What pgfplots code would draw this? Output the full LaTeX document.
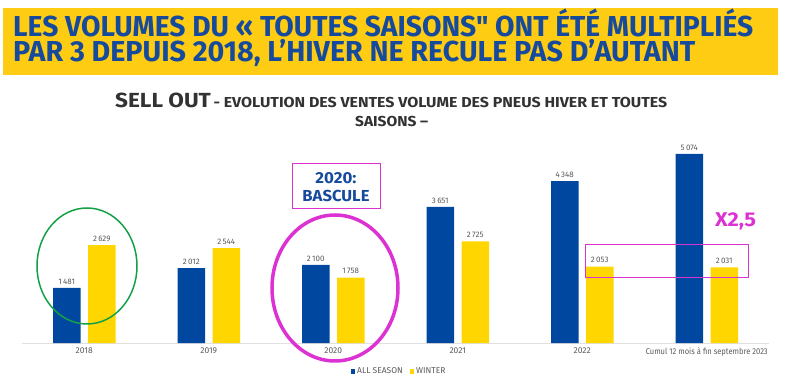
\documentclass[border=0pt]{standalone}
\usepackage{pgfplots}
\pgfplotsset{compat=1.18}
\usepackage{fontspec}
\setmainfont{Fira Sans}
\newfontfamily\titlefont{Fira Sans}
\usepackage{graphicx}
\definecolor{barblue}{RGB}{0,71,160}
\definecolor{baryellow}{RGB}{255,214,0}
\definecolor{banner}{RGB}{255,204,20}
\definecolor{titleblue}{RGB}{22,74,156}
\definecolor{mag}{RGB}{220,50,210}
\definecolor{grn}{RGB}{20,160,70}
\definecolor{lblgray}{RGB}{90,90,90}
\definecolor{subgray}{RGB}{50,50,50}
\begin{document}
\begin{tikzpicture}
\path[use as bounding box] (0,0) rectangle (785bp,385bp);
\begin{scope}[x=1bp,y=-1bp,yshift=385bp]
\fill[banner] (3,8) rectangle (778,75);
\node[anchor=base west, inner sep=0, text=titleblue, font=\titlefont\bfseries\fontsize{29}{34}\selectfont] at (13,37) {\resizebox{740bp}{\height}{LES VOLUMES DU « TOUTES SAISONS" ONT ÉTÉ MULTIPLIÉS}};
\node[anchor=base west, inner sep=0, text=titleblue, font=\titlefont\bfseries\fontsize{29}{34}\selectfont] at (13,62) {\resizebox{682bp}{\height}{PAR 3 DEPUIS 2018, L’HIVER NE RECULE PAS D’AUTANT}};
\node[anchor=base west, inner sep=0, text=subgray, font=\bfseries] at (115,108) {\resizebox{552bp}{\height}{{\fontsize{20.5}{24}\selectfont SELL OUT} {\fontsize{14.5}{17}\selectfont - EVOLUTION DES VENTES VOLUME DES PNEUS HIVER ET TOUTES}}};
\node[anchor=base west, inner sep=0, text=subgray, font=\bfseries\fontsize{14.5}{17}\selectfont] at (355,127) {\resizebox{73bp}{\height}{SAISONS –}};
\end{scope}
\begin{axis}[at={(22bp,42bp)}, anchor=south west, scale only axis,
  width=747bp, height=204.9bp,
  xmin=-0.5, xmax=5.5, ymin=0, ymax=5500,
  axis y line=none, axis x line*=bottom,
  x axis line style={draw=black!12, line width=1pt, -},
  xtick={0,...,5},
  xticklabels={2018,2019,2020,2021,2022,{\resizebox{122bp}{\height}{Cumul 12 mois à fin septembre 2023}}},
  major tick length=0,
  xticklabel style={font=\fontsize{8.5}{10}\selectfont, text=lblgray, yshift=-1bp},
  ybar, bar width=27.5bp,
  nodes near coords,
  every node near coord/.append style={font=\fontsize{8}{9}\selectfont, text=lblgray},
  /pgf/number format/1000 sep={\,},
  /pgf/number format/assume math mode=true,
  clip=false]
\addplot[fill=barblue, draw=none, bar shift=-17.5bp] coordinates {(0,1481) (1,2012) (2,2100) (3,3651) (4,4348) (5,5074)};
\addplot[fill=baryellow, draw=none, bar shift=17.5bp] coordinates {(0,2629) (1,2544) (2,1758) (3,2725) (4,2053) (5,2031)};
\end{axis}
\begin{scope}[x=1bp,y=-1bp,yshift=385bp]
\draw[grn, line width=1.5bp] (87,266) ellipse [x radius=50, y radius=58];
\draw[mag, line width=3.5bp] (335,288) ellipse [x radius=63, y radius=73];
\draw[mag, line width=0.8bp] (292,163) rectangle (380,208);
\node[anchor=base, inner sep=0, text=titleblue, font=\bfseries\fontsize{16}{19}\selectfont] at (336,184) {\resizebox{41bp}{\height}{2020:}};
\node[anchor=base, inner sep=0, text=titleblue, font=\bfseries\fontsize{16}{19}\selectfont] at (336,202) {\resizebox{67bp}{\height}{BASCULE}};
\draw[mag, line width=0.8bp] (585,244) rectangle (748,277);
\node[anchor=base, inner sep=0, text=mag, font=\bfseries\fontsize{20}{24}\selectfont] at (735.5,227) {\resizebox{41bp}{\height}{X2,5}};
\fill[barblue] (350.5,369.5) rectangle (355,374);
\node[anchor=base west, inner sep=0, font=\fontsize{8.5}{10}\selectfont, text=lblgray] at (357,374) {ALL SEASON};
\fill[baryellow] (409.5,369.5) rectangle (414,374);
\node[anchor=base west, inner sep=0, font=\fontsize{8.5}{10}\selectfont, text=lblgray] at (416,374) {WINTER};
\end{scope}
\end{tikzpicture}
\end{document}
